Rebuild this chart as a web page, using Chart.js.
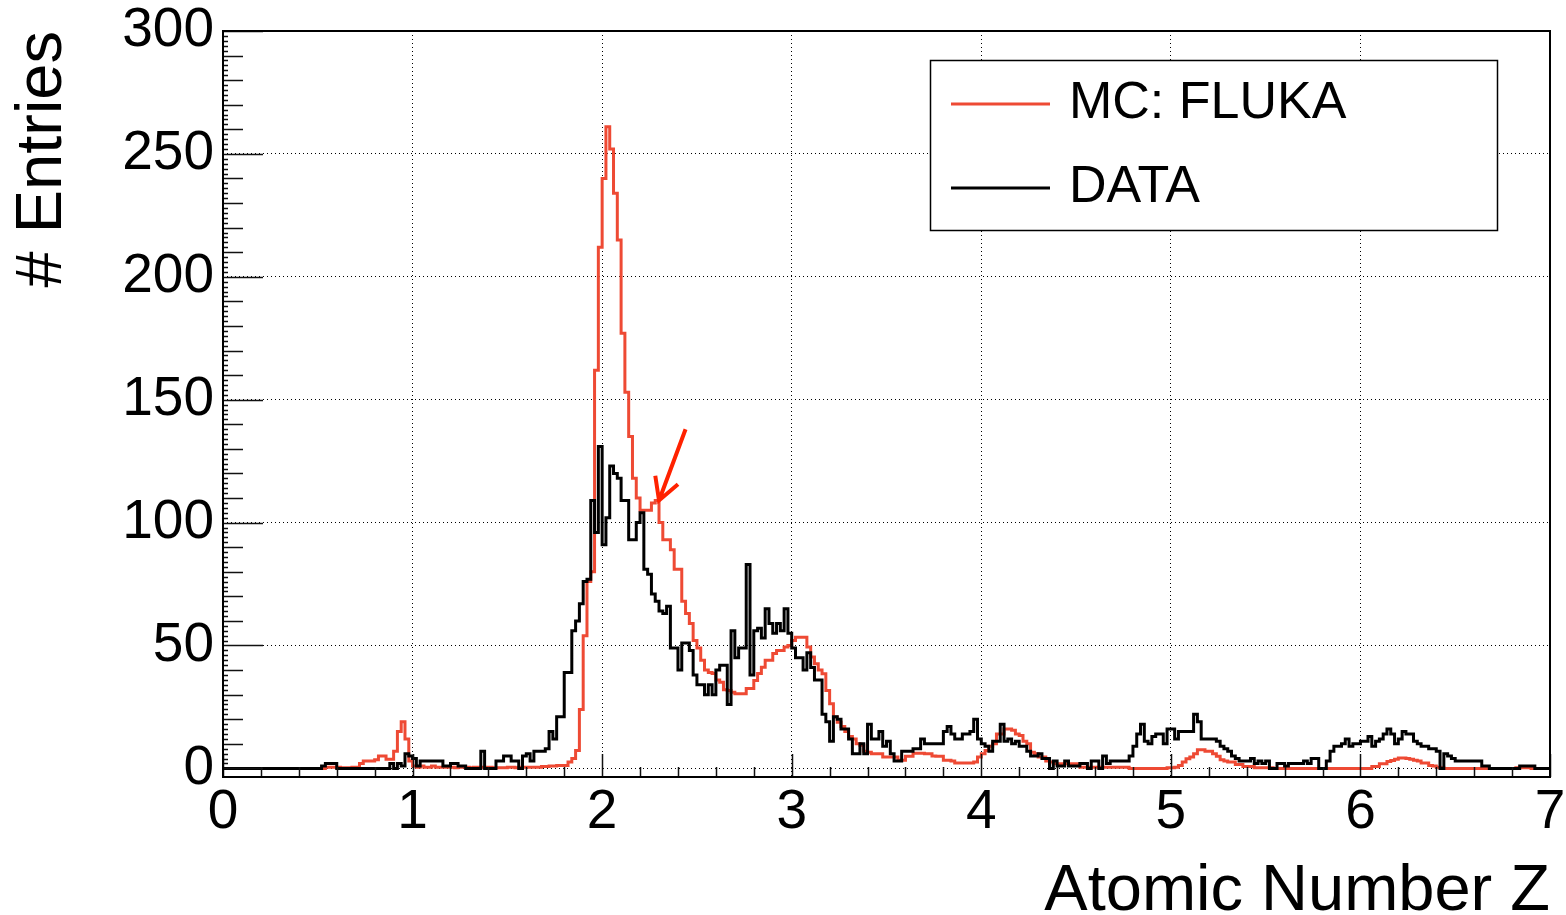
<!DOCTYPE html>
<html>
<head>
<meta charset="utf-8">
<script src="https://cdn.jsdelivr.net/npm/chart.js"></script>
<style>
html,body{margin:0;padding:0;background:#fff;overflow:hidden}
canvas{display:block}
</style>
</head>
<body>
<canvas id="c" width="1566" height="915"></canvas>
<script>
// ---- histogram binning (0 .. 7, 350 bins) ----
const binLow = 0;
const binWidth = 0.02;

// ---- axis tick labels ----
const xTickValues = [0, 1, 2, 3, 4, 5, 6, 7];
const yTickValues = [0, 50, 100, 150, 200, 250, 300];

// ---- series labels ----
const mcLabel = 'MC: FLUKA';
const dataLabel = 'DATA';

// ---- MC: FLUKA bin contents (one row = 10 bins = 0.2 in Z) ----
const mcCounts = [
  0,0,0,0,0,0,0,0,0,0,
  0,0,0,0,0,0,0,0,0,0,
  0,0,0,0,0,0,0,0,0.5,0.5,
  0.5,0.5,0.3,0.3,0.3,0.5,0.5,2,3,3,
  3,3.5,5,5,3.7,3.7,7,15,19,12,
  3,1,0.5,1,0.5,0.5,1,0.5,0.5,0.5,
  0.5,0.5,0.3,0.5,0.5,0.5,0.3,0.5,0.5,0.5,
  0.5,0.5,0.3,0.3,0.3,0.3,0.5,0.5,0.3,0.5,
  0.5,0.5,0.5,0.5,0.5,0.8,0.8,1,1,1.2,
  1.2,1.2,2.6,4,7.3,24,54,76,80,162,
  212,240,261,252,234,215,177,153,135,118,
  110,105,105,105,108,109,100,93,93,89,
  81,81,68,63,59,52,49,44,40,39,
  38.6,36,35,32,31.7,31,30.4,30.4,30.4,32.5,
  32.5,35.8,38.6,41.2,44,44,46.7,48,48,49.4,
  50,52,53.4,53.4,53.4,49.4,45.3,42.6,40,38.5,
  31.7,26.3,20.9,18.8,17,15,13,12,10,9.4,
  7,6.6,6,6,6,4.6,4.6,4.6,4.6,3.3,
  3.3,4.9,4.9,6.2,6.2,6.2,6,6,5,4.9,
  4.9,3.3,3.3,3,2.2,2.2,2.2,2.2,2.2,2.6,
  4.6,6,7.3,9,10,14,14,16,16,15.5,
  14,13.4,11,10,6.6,6,4.6,4.6,3,2.6,
  1.9,1.9,1.9,1.9,1.9,1.9,1.9,0.5,0.5,0.5,
  0.5,0.5,0.5,0.5,0.5,0.5,0.5,0.5,0.5,0.5,
  0,0,0,0,0,0,0,0,0,0,
  0.3,0.3,0.5,1.2,2.6,3.9,4.6,6,7.6,7.6,
  7,7,6,4.9,3.5,3,2.6,2.6,1.6,1.6,
  0.8,0.8,0.8,0.3,0.3,0.3,0.3,0.3,0,0,
  0,0,0,0,0,0,0,0,0,0,
  0,0,0,0,0,0,0,0,0,0,
  0,0,0,0,0.8,0.8,1.9,1.9,2.8,3.2,
  3.7,4.2,4.2,4,3.7,3.3,3,2.2,2.2,1.2,
  1,0.5,0.3,0,0,0,0,0,0,0,
  0,0,0,0,0,0,0,0,0,0,
  0,0,0.3,0.3,0.3,0.3,0,0,0,0
];

// ---- DATA bin contents ----
const dataCounts = [
  0,0,0,0,0,0,0,0,0,0,
  0,0,0,0,0,0,0,0,0,0,
  0,0,0,0,0,0,0,1,2,2,
  2,0,0,0,0,0,0,0,0,0,
  0,0,0,0,0,2,0,2,1,6,
  5,4,1,3,3,3,3,3,3,1,
  1,2,2,1,1,0,0,0,0,7,
  0,0,0,3,3,5,5,3,3,0,
  5,6,3,7,7,7,8,15,12,21,
  21,39,39,56,60,67,76,77,109,96,
  131,91,102,123,120,118,109,109,93,93,
  100,104,81,79,71,68,64,63,66,49,
  49,40,51,51,48,38,34,34,30,34,
  30,40,42,42,26,56,45,49,49,83,
  38,56,57,53,65,59,55,59,56,65,
  55,49,45,45,40,47,41,36,36,22,
  19,11,21,20,16,16,12,6,6,10,
  6,18,12,12,15,9,11,6,3,3,
  7,7,7,8,8,12,10,10,10,10,
  10,15,17,14,12,12,14,14,15,20,
  12,10,9,7,11,11,18,11,12,10,
  11,9,9,7,5,5,6,4,4,0,
  3,1,1,3,1,1,1,2,2,0,
  3,3,0,5,2,3,3,3,3,3,
  5,9,14,18,11,10,13,14,14,10,
  16,16,12,15,15,15,15,22,19,12,
  12,12,12,11,9,8,7,5,4,3,
  3,3,4,2,3,2,3,0,0,2,
  2,1,2,2,2,2,3,2,4,4,
  0,0,3,7,9,9,10,12,9,10,
  10,11,11,13,9,11,12,14,16,14,
  10,12,15,14,14,11,10,9,9,8,
  8,7,0,6,5,4,3,3,3,3,
  3,3,3,1,1,0,0,0,0,0,
  0,0,0,1,1,1,1,0,0,0
];

// ---- annotation arrow (data coordinates: Z, entries) ----
const arrowTail = [2.44, 138];
const arrowTip = [2.30, 109];

const FONT = "'Liberation Sans', Arial, Helvetica, sans-serif";
const mcColor = 'rgb(238,74,52)';
const dataColor = '#000000';
const arrowColor = 'rgb(255,34,0)';

function toSteps(counts) {
  const pts = counts.map((v, i) => ({ x: +(binLow + i * binWidth).toFixed(4), y: v }));
  pts.push({ x: +(binLow + counts.length * binWidth).toFixed(4), y: counts[counts.length - 1] });
  return pts;
}

function zeroPad(s) {
  s.paddingTop = 0; s.paddingBottom = 0; s.paddingLeft = 0; s.paddingRight = 0;
}

const rootDecor = {
  id: 'rootDecor',
  afterDatasetsDraw(chart) {
    const { ctx, chartArea: a, scales: { x, y } } = chart;
    ctx.save();
    ctx.strokeStyle = '#111';
    ctx.lineWidth = 1.5;
    ctx.beginPath();
    // y ticks: every 2, medium every 10, long every 50
    for (let k = 0; k <= 150; k++) {
      const v = k * 2;
      const py = Math.round(y.getPixelForValue(v)) + 0.5;
      const len = (k % 25 === 0) ? 40 : (k % 5 === 0 ? 20 : 5);
      ctx.moveTo(a.left, py);
      ctx.lineTo(a.left + len, py);
    }
    // x ticks: every 0.2, long every 1
    for (let k = 0; k <= 35; k++) {
      const v = k * 0.2;
      const px = Math.round(x.getPixelForValue(v)) + 0.5;
      const len = (k % 5 === 0) ? 23 : 10;
      ctx.moveTo(px, a.bottom);
      ctx.lineTo(px, a.bottom - len);
    }
    ctx.stroke();
    // frame
    ctx.lineWidth = 2;
    ctx.strokeStyle = '#000';
    ctx.strokeRect(a.left, a.top, a.right - a.left, a.bottom - a.top);

    // arrow
    const tx = x.getPixelForValue(arrowTail[0]), ty = y.getPixelForValue(arrowTail[1]);
    const hx = x.getPixelForValue(arrowTip[0]), hy = y.getPixelForValue(arrowTip[1]);
    const ang = Math.atan2(ty - hy, tx - hx);
    const hl = 25, spread = 29 * Math.PI / 180;
    ctx.strokeStyle = arrowColor;
    ctx.lineWidth = 4;
    ctx.lineCap = 'butt';
    ctx.lineJoin = 'miter';
    ctx.beginPath();
    ctx.moveTo(tx, ty);
    ctx.lineTo(hx, hy);
    ctx.moveTo(hx + hl * Math.cos(ang - spread), hy + hl * Math.sin(ang - spread));
    ctx.lineTo(hx, hy);
    ctx.lineTo(hx + hl * Math.cos(ang + spread), hy + hl * Math.sin(ang + spread));
    ctx.stroke();
    ctx.restore();
  },
  afterDraw(chart) {
    const ctx = chart.ctx;
    ctx.save();
    const bx = 930, by = 60, bw = 567, bh = 170;
    ctx.fillStyle = '#fff';
    ctx.fillRect(bx, by, bw, bh);
    ctx.strokeStyle = '#000';
    ctx.lineWidth = 1.5;
    ctx.strokeRect(bx + 0.5, by + 0.5, bw, bh);
    const ds = chart.data.datasets;
    const order = [ds.find(d => d.label === mcLabel), ds.find(d => d.label === dataLabel)];
    const rowsY = [104, 188];
    order.forEach((d, i) => {
      ctx.strokeStyle = d.borderColor;
      ctx.lineWidth = 3;
      ctx.beginPath();
      ctx.moveTo(951, rowsY[i]);
      ctx.lineTo(1050, rowsY[i]);
      ctx.stroke();
      ctx.fillStyle = '#000';
      ctx.font = '52px ' + FONT;
      ctx.textAlign = 'left';
      ctx.textBaseline = 'middle';
      ctx.fillText(d.label, 1069, rowsY[i]);
    });
    ctx.restore();
  }
};

new Chart(document.getElementById('c'), {
  type: 'line',
  data: {
    datasets: [
      {
        label: dataLabel,
        data: toSteps(dataCounts),
        borderColor: dataColor,
        borderWidth: 3,
        stepped: 'after',
        pointRadius: 0,
        fill: false,
        order: 0,
        borderJoinStyle: 'miter',
        borderCapStyle: 'butt'
      },
      {
        label: mcLabel,
        data: toSteps(mcCounts),
        borderColor: mcColor,
        borderWidth: 3,
        stepped: 'after',
        pointRadius: 0,
        fill: false,
        order: 1,
        borderJoinStyle: 'miter',
        borderCapStyle: 'butt'
      }
    ]
  },
  options: {
    responsive: false,
    animation: false,
    devicePixelRatio: 1,
    layout: { padding: { top: 31, right: 16, left: 0, bottom: 0 } },
    plugins: { legend: { display: false }, tooltip: { enabled: false } },
    scales: {
      x: {
        type: 'linear',
        min: 0,
        max: 7,
        afterBuildTicks: s => { s.ticks = xTickValues.map(v => ({ value: v })); },
        afterFit: s => { s.height = 138; zeroPad(s); },
        grid: { color: '#000', lineWidth: 1, drawTicks: false },
        border: { display: false, dash: [1, 3] },
        ticks: {
          font: { family: FONT, size: 55, lineHeight: 1 },
          color: '#000',
          padding: 8,
          maxRotation: 0,
          autoSkip: false,
          callback: v => String(v)
        },
        title: {
          display: true,
          text: 'Atomic Number Z',
          align: 'end',
          color: '#000',
          font: { family: FONT, size: 65, lineHeight: 0.72 },
          padding: 0
        }
      },
      y: {
        type: 'linear',
        min: -3.5,
        max: 300,
        afterBuildTicks: s => { s.ticks = yTickValues.map(v => ({ value: v })); },
        afterFit: s => { s.width = 223; zeroPad(s); },
        grid: { color: '#000', lineWidth: 1, drawTicks: false },
        border: { display: false, dash: [1, 3] },
        ticks: {
          font: { family: FONT, size: 55, lineHeight: 1 },
          color: '#000',
          padding: 9,
          autoSkip: false,
          callback: v => String(v)
        },
        title: {
          display: true,
          text: '# Entries',
          align: 'end',
          color: '#000',
          font: { family: FONT, size: 65, lineHeight: 1 },
          padding: { top: 11, bottom: 0 }
        }
      }
    }
  },
  plugins: [rootDecor]
});
</script>
</body>
</html>
